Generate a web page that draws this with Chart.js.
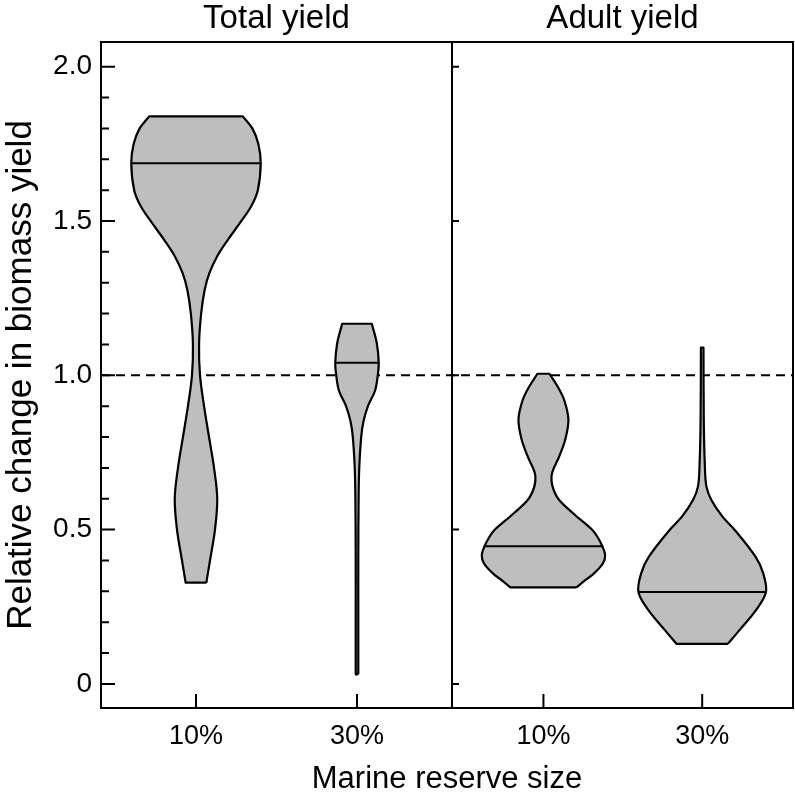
<!DOCTYPE html>
<html>
<head>
<meta charset="utf-8">
<title>Relative change in biomass yield</title>
<script src="https://cdn.jsdelivr.net/npm/chart.js@4.4.1/dist/chart.umd.min.js"></script>
<style>
  html, body { margin: 0; padding: 0; background: #fff; }
  canvas { display: block; }
</style>
</head>
<body>
<canvas id="violinChart" width="795" height="802"></canvas>
<script>
// Categories, panels and axis ranges
const reserveSizes = ['10%', '30%', '10%', '30%'];
const panelTitles = ['Total yield', 'Adult yield'];
const panelCenters = [1.5, 3.649];
const violinPositions = [1, 2, 3.158, 4.144];
const panelDivider = 2.59;
const xRange = [0.41, 4.708];
const yRange = [-0.078, 2.08];

const yTicks = [0, 0.5, 1.0, 1.5, 2.0];
const yTickLabels = ['0', '0.5', '1.0', '1.5', '2.0'];
const yMinorStep = 0.1;
const referenceValue = 1.0;

// Violin outlines: y levels (bottom to top) and density half-widths
const totalTenLevels = [0.328, 0.40, 0.50, 0.60, 0.70, 0.80, 0.90, 1.00, 1.10, 1.20, 1.277, 1.331, 1.385, 1.439, 1.493, 1.547, 1.60, 1.687, 1.75, 1.80, 1.839];
const totalTenWidths = [0.064, 0.087, 0.118, 0.132, 0.112, 0.081, 0.050, 0.025, 0.019, 0.032, 0.054, 0.083, 0.131, 0.198, 0.272, 0.342, 0.384, 0.402, 0.387, 0.350, 0.291];

const totalThirtyLevels = [0.031, 0.20, 0.40, 0.60, 0.70, 0.80, 0.85, 0.90, 0.95, 1.00, 1.041, 1.104, 1.167];
const totalThirtyWidths = [0.008, 0.008, 0.008, 0.010, 0.014, 0.026, 0.040, 0.068, 0.112, 0.129, 0.135, 0.123, 0.092];

const adultTenLevels = [0.313, 0.337, 0.359, 0.391, 0.418, 0.446, 0.477, 0.499, 0.553, 0.607, 0.672, 0.737, 0.791, 0.856, 0.920, 0.964, 1.005];
const adultTenWidths = [0.205, 0.262, 0.316, 0.370, 0.383, 0.366, 0.335, 0.304, 0.184, 0.083, 0.050, 0.098, 0.135, 0.155, 0.129, 0.088, 0.037];

const adultThirtyLevels = [0.13, 0.175, 0.24, 0.298, 0.36, 0.413, 0.499, 0.542, 0.596, 0.640, 0.715, 0.85, 1.09];
const adultThirtyWidths = [0.160, 0.233, 0.335, 0.396, 0.378, 0.330, 0.202, 0.126, 0.057, 0.026, 0.016, 0.010, 0.008];

const medianValues = [1.687, 1.041, 0.446, 0.298];
const medianWidths = [0.402, 0.135, 0.366, 0.396];

const violinLevels = [totalTenLevels, totalThirtyLevels, adultTenLevels, adultThirtyLevels];
const violinWidths = [totalTenWidths, totalThirtyWidths, adultTenWidths, adultThirtyWidths];

// Closed outline: up the right side, across the top, down the left side.
// Corner points are doubled so the flat ends stay straight with tension on.
function violinOutline(center, levels, widths) {
    const right = levels.map((v, i) => ({ x: center + widths[i], y: v }));
    const left = levels.map((v, i) => ({ x: center - widths[i], y: v })).reverse();
    const n = levels.length;
    return [right[0], ...right, right[n - 1], left[0], ...left, left[n - 1], right[0]];
}

const datasets = [];

// Dashed no-change line, drawn underneath the violins
datasets.push({
    data: [{ x: xRange[0], y: referenceValue }, { x: xRange[1], y: referenceValue }],
    borderColor: '#000',
    borderWidth: 2,
    borderDash: [9, 6],
    pointRadius: 0,
    fill: false,
    tension: 0,
    order: 3
});

violinPositions.forEach(function(center, i) {
    datasets.push({
        data: violinOutline(center, violinLevels[i], violinWidths[i]),
        borderColor: '#000',
        borderWidth: 2.2,
        borderJoinStyle: 'round',
        backgroundColor: '#bebebe',
        fill: 'shape',
        tension: 0.35,
        pointRadius: 0,
        order: 2
    });
    datasets.push({
        data: [
            { x: center - medianWidths[i], y: medianValues[i] },
            { x: center + medianWidths[i], y: medianValues[i] }
        ],
        borderColor: '#000',
        borderWidth: 2,
        pointRadius: 0,
        fill: false,
        tension: 0,
        order: 1
    });
});

// Box around both panels, the panel divider and inward tick marks
const panelFrame = {
    id: 'panelFrame',
    afterDraw(chart) {
        const { ctx, chartArea: area, scales } = chart;
        const x = scales.x;
        const y = scales.y;
        const divX = x.getPixelForValue(panelDivider);
        ctx.save();
        ctx.strokeStyle = '#000';
        ctx.lineWidth = 2;
        ctx.beginPath();
        ctx.rect(area.left, area.top, area.right - area.left, area.bottom - area.top);
        ctx.moveTo(divX, area.top);
        ctx.lineTo(divX, area.bottom);

        const minorCount = Math.round(yTicks[yTicks.length - 1] / yMinorStep);
        for (let i = 0; i <= minorCount; i++) {
            const py = y.getPixelForValue(i * yMinorStep);
            const len = i % 5 === 0 ? 14 : 8;
            ctx.moveTo(area.left, py);
            ctx.lineTo(area.left + len, py);
        }
        yTicks.forEach(function(v) {
            const py = y.getPixelForValue(v);
            ctx.moveTo(divX, py);
            ctx.lineTo(divX + 7, py);
        });
        violinPositions.forEach(function(v) {
            const px = x.getPixelForValue(v);
            ctx.moveTo(px, area.bottom);
            ctx.lineTo(px, area.bottom - 14);
        });
        ctx.stroke();
        ctx.restore();
    }
};

Chart.defaults.font.family = "'Liberation Sans', Arial, sans-serif";
Chart.defaults.color = '#000';

new Chart(document.getElementById('violinChart'), {
    type: 'line',
    data: { datasets: datasets },
    plugins: [panelFrame],
    options: {
        responsive: false,
        animation: false,
        layout: { padding: { left: 0, right: 2, top: 0, bottom: 0 } },
        plugins: {
            legend: { display: false },
            tooltip: { enabled: false }
        },
        scales: {
            x: {
                type: 'linear',
                position: 'bottom',
                min: xRange[0],
                max: xRange[1],
                grid: { display: false, drawTicks: false },
                border: { display: false },
                afterBuildTicks: function(scale) {
                    scale.ticks = violinPositions.map(v => ({ value: v }));
                },
                afterFit: function(scale) { scale.height = 94; },
                ticks: {
                    autoSkip: false,
                    maxRotation: 0,
                    padding: 12,
                    font: { size: 27 },
                    callback: function(value, index) { return reserveSizes[index]; }
                },
                title: {
                    display: true,
                    text: 'Marine reserve size',
                    font: { size: 31 },
                    padding: { top: 0, bottom: 4 }
                }
            },
            top: {
                type: 'linear',
                axis: 'x',
                position: 'top',
                min: xRange[0],
                max: xRange[1],
                grid: { display: false, drawTicks: false },
                border: { display: false },
                afterBuildTicks: function(scale) {
                    scale.ticks = panelCenters.map(v => ({ value: v }));
                },
                afterFit: function(scale) { scale.height = 42; },
                ticks: {
                    autoSkip: false,
                    maxRotation: 0,
                    padding: 3,
                    font: { size: 33 },
                    callback: function(value, index) { return panelTitles[index]; }
                }
            },
            y: {
                type: 'linear',
                min: yRange[0],
                max: yRange[1],
                grid: { display: false, drawTicks: false },
                border: { display: false },
                afterBuildTicks: function(scale) {
                    scale.ticks = yTicks.map(v => ({ value: v }));
                },
                afterFit: function(scale) { scale.width = 101; },
                ticks: {
                    padding: 9,
                    font: { size: 28 },
                    callback: function(value, index) { return yTickLabels[index]; }
                },
                title: {
                    display: true,
                    text: 'Relative change in biomass yield',
                    font: { size: 35 },
                    padding: { top: 0, bottom: 0 }
                }
            }
        }
    }
});
</script>
</body>
</html>
